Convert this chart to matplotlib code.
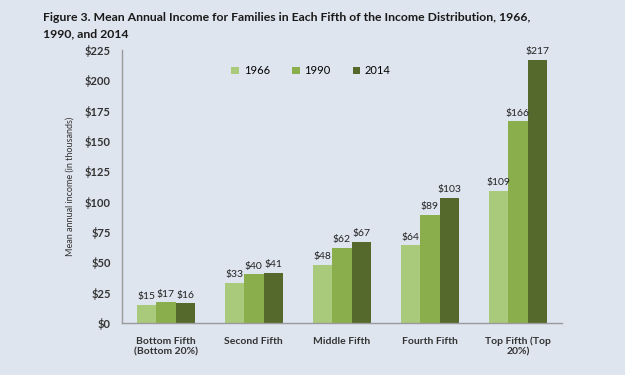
import numpy as np
import matplotlib.pyplot as plt

categories = ["Bottom Fifth\n(Bottom 20%)", "Second Fifth", "Middle Fifth",
              "Fourth Fifth", "Top Fifth (Top\n20%)"]
years = ["1966", "1990", "2014"]
inc_1966 = [15, 33, 48, 64, 109]
inc_1990 = [17, 40, 62, 89, 166]
inc_2014 = [16, 41, 67, 103, 217]
yticks = [0, 25, 50, 75, 100, 125, 150, 175, 200, 225]

colors = ["#a9c97b", "#8aae4b", "#56692c"]
bg = "#dfe5ef"

plt.rcParams["font.family"] = ["Lato", "DejaVu Sans"]

fig = plt.figure(figsize=(6.25, 3.75), dpi=100, facecolor=bg)
ax = fig.add_axes([0.195, 0.139, 0.704, 0.728], facecolor=bg)

x = np.arange(len(categories))
w = 0.22
for i, (vals, yr) in enumerate(zip([inc_1966, inc_1990, inc_2014], years)):
    pos = x + (i - 1) * w
    ax.bar(pos, vals, width=w, color=colors[i], label=yr)
    for p, v in zip(pos, vals):
        ax.text(p, v + 3, f"${v}", ha="center", va="bottom", fontsize=7.5,
                color="#222222")

ax.set_xlim(-0.5, len(categories) - 0.5)
ax.set_ylim(0, 225)
ax.set_yticks(yticks)
ax.set_yticklabels([f"${t}" for t in yticks], fontsize=8, fontweight="bold",
                   color="#333333")
ax.set_xticks(x)
ax.set_xticklabels(categories, fontsize=7.5, fontweight="bold", color="#333333")
ax.tick_params(axis="x", length=0, pad=10)
ax.tick_params(axis="y", length=0, pad=8)
for s in ["top", "right"]:
    ax.spines[s].set_visible(False)
for s in ["left", "bottom"]:
    ax.spines[s].set_color("#9a9a9a")
    ax.spines[s].set_linewidth(1)

ax.set_ylabel("Mean annual income (in thousands)", fontsize=6.5, color="#333333",
              labelpad=7)

ax.legend(loc="upper center", bbox_to_anchor=(0.43, 0.98), ncol=3, frameon=False,
          fontsize=8, handlelength=0.7, handleheight=0.7, columnspacing=2.0,
          handletextpad=0.4)

fig.text(0.069, 0.968, "Figure 3. Mean Annual Income for Families in Each Fifth of the Income Distribution, 1966,\n1990, and 2014",
         fontsize=8.8, fontweight="bold", va="top", ha="left", color="#1a1a1a",
         linespacing=1.55)

fig.savefig("out.png", dpi=100, facecolor=bg)
